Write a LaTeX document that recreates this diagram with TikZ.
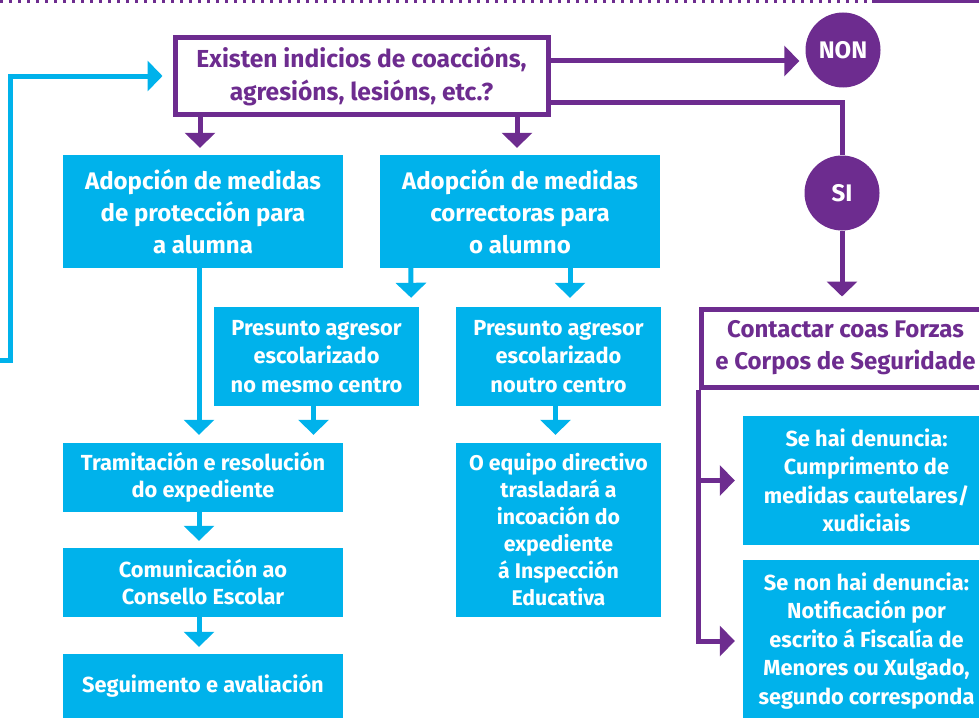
\documentclass[tikz,border=0pt]{standalone}
\usepackage{fontspec}
\setmainfont{Fira Sans}
\usetikzlibrary{arrows.meta}

\definecolor{azul}{HTML}{00B2EB}
\definecolor{morado}{HTML}{6D2C8F}

\tikzset{
  caixa/.style={fill=azul, text=white, align=center, inner sep=0pt,
    font=\bfseries\fontsize{24}{32}\selectfont},
  caixap/.style={caixa, font=\bfseries\fontsize{21.8}{28.5}\selectfont},
  pregunta/.style={draw=morado, line width=5pt, fill=white, text=morado, align=center,
    inner sep=0pt, font=\bfseries\fontsize{24.6}{33}\selectfont},
  bola/.style={circle, fill=morado, text=white, minimum size=75pt, inner sep=0pt,
    font=\bfseries\fontsize{24}{24}\selectfont},
  frecha/.style={line width=5pt, -{Triangle[width=30pt,length=15pt]}},
  barr/.style={frecha, draw=azul},
  parr/.style={frecha, draw=morado},
  pline/.style={line width=5pt, draw=morado}
}

\begin{document}
\begin{tikzpicture}[x=1pt,y=-1pt]
	\useasboundingbox (0,0) rectangle (979,717);
	% liña superior
	\draw[morado, line width=3pt, dash pattern=on 3pt off 6pt] (0,1.5) -- (870,1.5);
	\draw[morado, line width=3pt] (872,1.5) -- (979,1.5);

	\node[pregunta, minimum width=373pt, minimum height=77pt] (q) at (361.5,76)
		{Existen indicios de coaccións,\\agresións, lesións, etc.?};
	\node[bola] (non) at (843,50) {NON};
	\node[bola] (si) at (842,193) {SI};

	\node[caixa, minimum width=280pt, minimum height=113pt] (prot) at (203,211.5)
		{Adopción de medidas\\de protección para\\a alumna};
	\node[caixa, minimum width=280pt, minimum height=113pt] (corr) at (520,211.5)
		{Adopción de medidas\\correctoras para\\o alumno};
	\node[caixap, minimum width=205pt, minimum height=99pt] (mesmo) at (316.5,356.5)
		{Presunto agresor\\escolarizado\\no mesmo centro};
	\node[caixap, minimum width=205pt, minimum height=99pt] (noutro) at (558.5,356.5)
		{Presunto agresor\\escolarizado\\noutro centro};
	\node[caixap, minimum width=280pt, minimum height=69pt, font=\bfseries\fontsize{21.8}{27}\selectfont]
		(tram) at (203,477.5) {Tramitación e resolución\\do expediente};
	\node[caixap, minimum width=280pt, minimum height=69pt, font=\bfseries\fontsize{21.8}{27}\selectfont]
		(comun) at (203,582.5) {Comunicación ao\\Consello Escolar};
	\node[caixap, minimum width=280pt, minimum height=64pt] (segui) at (203,686)
		{Seguimento e avaliación};
	\node[caixap, minimum width=205pt, minimum height=174pt, font=\bfseries\fontsize{21.3}{27}\selectfont]
		(equipo) at (558.5,530)
		{O equipo directivo\\trasladará a\\incoación do\\expediente\\á Inspección\\Educativa};

	\node[pregunta, minimum width=289pt, minimum height=78pt, font=\bfseries\fontsize{24}{32}\selectfont]
		(contact) at (845.5,348) {Contactar coas Forzas\\e Corpos de Seguridade};
	\node[caixap, minimum width=247pt, minimum height=129pt] (den1) at (866.5,480.5)
		{Se hai denuncia:\\Cumprimento de\\medidas cautelares/\\xudiciais};
	\node[caixap, minimum width=247pt, minimum height=162pt] (den2) at (866.5,641)
		{Se non hai denuncia:\\Notificación por\\escrito á Fiscalía de\\Menores ou Xulgado,\\segundo corresponda};

	% frechas moradas
	\coordinate (qnon) at ([yshift=15pt]q.east);
	\coordinate (qsi) at ([yshift=-26pt]q.east);
	\draw[parr, shorten >=7pt] ([xshift=-3pt]q.south -| prot.north) -- ([xshift=-3pt]prot.north);
	\draw[parr, shorten >=7pt] ([xshift=-3pt]q.south -| corr.north) -- ([xshift=-3pt]corr.north);
	\draw[parr, shorten >=6pt] (qnon) -- (qnon -| non.west);
	\draw[pline] (qsi) -| (si.north);
	\draw[parr, shorten >=10pt] (si.south) -- (si.south |- contact.north);
	\draw[parr, shorten >=8pt] (contact.south west) |- (den1.west);
	\draw[parr, shorten >=8pt] (contact.south west) |- (den2.west);

	% frechas azuis
	\coordinate (volta) at (0,360);
	\draw[barr, shorten >=10pt] (volta) -- ++(10,0) |- (q.west);
	\draw[barr, shorten >=8pt] ([xshift=-4pt]prot.south) -- ([xshift=-4pt]prot.south |- tram.north);
	\draw[barr, shorten >=9pt] ([xshift=31pt]corr.south west) -- ([xshift=-8pt]mesmo.north east);
	\draw[barr, shorten >=9pt] ([xshift=50pt]corr.south) -- ([xshift=11.5pt]noutro.north);
	\draw[barr, shorten >=8pt] ([xshift=-3pt]mesmo.south) -- ([xshift=-3pt]mesmo.south |- tram.north);
	\draw[barr, shorten >=8pt] ([xshift=-3pt]noutro.south) -- ([xshift=-3pt]equipo.north);
	\draw[barr, shorten >=7pt] ([xshift=-4pt]tram.south) -- ([xshift=-4pt]comun.north);
	\draw[barr, shorten >=7pt] ([xshift=-4pt]comun.south) -- ([xshift=-4pt]segui.north);
\end{tikzpicture}
\end{document}
